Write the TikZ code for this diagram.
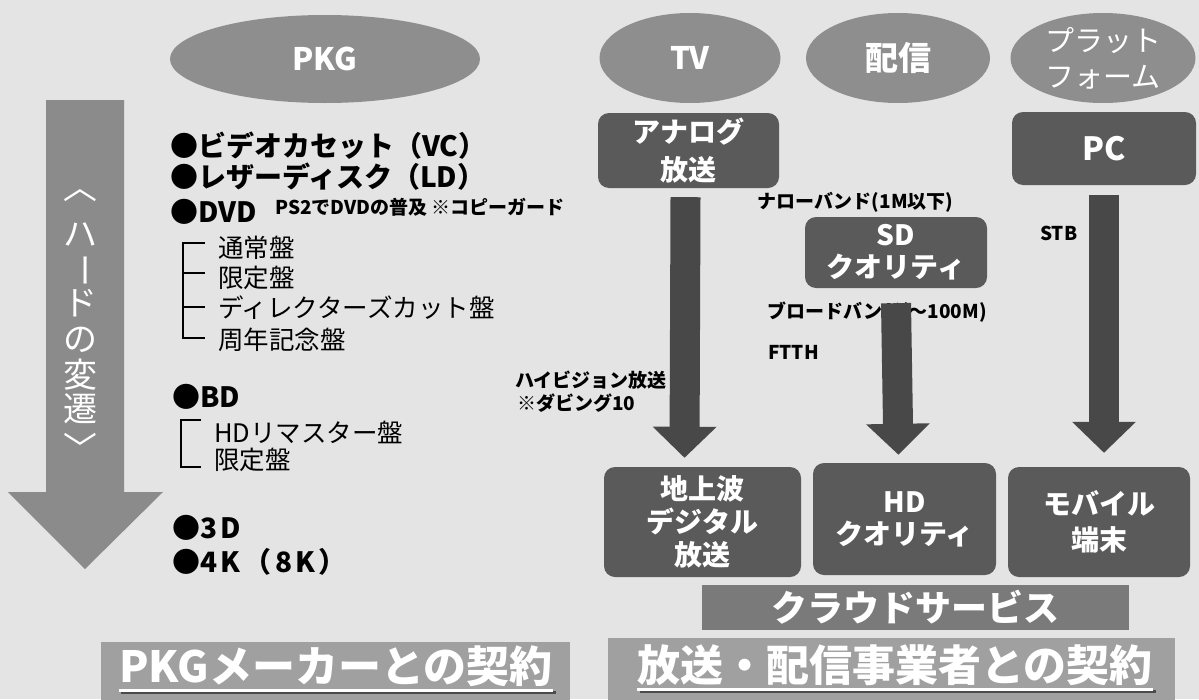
\documentclass[tikz,border=0pt]{standalone}
\usepackage{fontspec}
\setmainfont{Noto Sans CJK JP}
\usetikzlibrary{shapes.geometric,arrows.meta}
\definecolor{bg}{HTML}{E4E4E4}
\definecolor{ellfill}{HTML}{8E8E8E}
\definecolor{boxfill}{HTML}{5A5A5A}
\definecolor{arrfill}{HTML}{484848}
\definecolor{bigarr}{HTML}{8B8B8B}
\definecolor{bannerfill}{HTML}{A0A0A0}
\definecolor{cloudfill}{HTML}{7A7A7A}
\definecolor{shadowc}{HTML}{4A4A4A}
\newcommand{\fs}[1]{\fontsize{#1}{#1}\selectfont}
\tikzset{
  ell/.style={ellipse, fill=ellfill, inner sep=0pt},
  elltext/.style={text=white, font=\fs{31}\bfseries, align=center, inner sep=0pt},
  box/.style={rectangle, rounded corners=11pt, fill=boxfill, text=white, align=center, inner sep=0pt, font=\bfseries},
  flow/.style={draw=arrfill, line width=30pt, -{Triangle[width=62pt,length=31pt]}},
  item/.style={anchor=west, inner sep=0pt, font=\fs{28}\bfseries},
  subitem/.style={anchor=west, inner sep=0pt, font=\fs{25.5}},
  lab/.style={anchor=west, inner sep=0pt, font=\fs{19}\bfseries},
  brk/.style={line width=2.6pt, black},
  vtext/.style={text=white, inner sep=0pt, font=\fs{34}},
  banner/.style={rectangle, inner sep=0pt},
  bantext/.style={text=white, inner sep=0pt, font=\fs{43}\bfseries},
}
\begin{document}
\begin{tikzpicture}[x=1pt,y=-1pt]
\fill[bg] (0,0) rectangle (1199,699);
\useasboundingbox (0,0) rectangle (1199,699);

% ellipses
\node[ell, minimum width=310pt, minimum height=88pt] (pkg) at (325,59) {};
\node[elltext] (pkgT) at (pkg) {PKG};
\node[ell, minimum width=181pt, minimum height=90pt] (tv) at (690,58) {};
\node[elltext] (tvT) at (tv) {TV};
\node[ell, minimum width=184pt, minimum height=90pt] (hai) at (898,58) {};
\node[elltext, font=\fs{33}\bfseries] (haiT) at (hai) {配信};
\node[ell, minimum width=185pt, minimum height=90pt] (plat) at (1103,58) {};
\node[elltext, font=\fs{29}, align=center] (platT) at (plat) {プラット\\[7pt]フォーム};

% top boxes
\node[box, minimum width=181pt, minimum height=75pt, font=\fs{28}\bfseries] (ana) at (688.5,150.5) {アナログ\\[10pt]放送};
\node[box, minimum width=184pt, minimum height=73pt, font=\fs{32}\bfseries] (pc) at (1104,148.5) {PC};
\node[box, minimum width=182pt, minimum height=71pt, font=\fs{28}\bfseries] (sd) at (896,252.5) {SD\\[4pt]クオリティ};

% bottom boxes
\node[box, minimum width=197pt, minimum height=110pt, font=\fs{28}\bfseries] (chi) at (702.5,522) {地上波\\[5pt]デジタル\\[5pt]放送};
\node[box, minimum width=183pt, minimum height=112pt, font=\fs{28}\bfseries] (hd) at (904.5,519) {HD\\[4pt]クオリティ};
\node[box, minimum width=182pt, minimum height=110pt, font=\fs{28}\bfseries] (mob) at (1099,522) {モバイル\\[8pt]端末};

% labels
\node[lab] (narrow) at (757,202) {ナローバンド(1M以下)};
\node[lab] (stb) at (1040,233) {STB};
\node[lab] (broad) at (767,312) {ブロードバンド(～100M)};
\node[lab] (ftth) at (768,352) {FTTH};
\node[lab] (hv) at (515,380) {ハイビジョン放送};
\node[lab] (dub) at (517,403) {※ダビング10};

% flow arrows
\draw[flow] ([xshift=-3pt,yshift=-9pt]ana.south) -- ([xshift=-18pt,yshift=9pt]chi.north);
\draw[flow] ([yshift=-15pt]sd.south) -- ([xshift=-6pt,yshift=8pt]hd.north);
\draw[flow] ([yshift=-10pt]pc.south) -- ([xshift=5pt,yshift=14pt]mob.north);

% cloud
\node[banner, fill=cloudfill, minimum width=427pt, minimum height=45pt] (cloud) at (915.5,607.5) {};
\node[text=white, inner sep=0pt, font=\fs{36}\bfseries] (cloudT) at (cloud) {クラウドサービス};

% bottom banners
\node[banner, fill=bannerfill, minimum width=469pt, minimum height=60pt, anchor=north west] (pkgban) at (101,642) {};
\node[bantext] (pkgbanT) at (336,666) {PKGメーカーとの契約};
\draw[shadowc, line width=3pt] ([xshift=2.5pt,yshift=-10.5pt]pkgbanT.base west) -- ([xshift=2.5pt,yshift=-10.5pt]pkgbanT.base east);
\draw[white, line width=3pt] ([yshift=-8pt]pkgbanT.base west) -- ([yshift=-8pt]pkgbanT.base east);

\node[banner, fill=bannerfill, minimum width=567pt, minimum height=62pt, anchor=north west] (conban) at (608,638) {};
\node[bantext] (conbanT) at (895,665) {放送・配信事業者との契約};
\draw[shadowc, line width=3pt] ([xshift=2.5pt,yshift=-10.5pt]conbanT.base west) -- ([xshift=2.5pt,yshift=-10.5pt]conbanT.base east);
\draw[white, line width=3pt] ([yshift=-8pt]conbanT.base west) -- ([yshift=-8pt]conbanT.base east);

% left big arrow
\fill[bigarr] (46,100) -- (124,100) -- (124,492) -- (163,492) -- (85,569) -- (8,492) -- (46,492) -- cycle;
\foreach \c/\y [count=\i] in {{\rotatebox[origin=c]{-90}{〈}}/186, ハ/235, {\rotatebox[origin=c]{-90}{ー}}/270, ド/303, の/340, 変/375, 遷/409, {\rotatebox[origin=c]{-90}{〉}}/448}
  \node[vtext] (v\i) at (80,\y) {\c};

% left list
\node[item] (b1) at (170,146) {●ビデオカセット（VC）};
\node[item] (b2) at (170,177) {●レザーディスク（LD）};
\node[item] (b3) at (170,212) {●DVD};
\node[lab] (ps2) at (275,207) {PS2でDVDの普及 ※コピーガード};
\draw[brk] (205,243) -- (183,243) -- (183,338) -- (205,338);
\draw[brk] (183,273) -- (205,273);
\draw[brk] (183,307) -- (205,307);
\node[subitem] (s1) at (218,248) {通常盤};
\node[subitem] (s2) at (218,278) {限定盤};
\node[subitem] (s3) at (218,308) {ディレクターズカット盤};
\node[subitem] (s4) at (218,340) {周年記念盤};
\node[item] (b4) at (172,397) {●BD};
\draw[brk] (201,420) -- (181,420) -- (181,467) -- (201,467);
\node[subitem] (s5) at (214,432) {HDリマスター盤};
\node[subitem] (s6) at (214,460) {限定盤};
\node[item] (b5) at (172,528) {●\addfontfeature{LetterSpace=12}3D};
\node[item] (b6) at (172,562) {●\addfontfeature{LetterSpace=12}4K（8K）};
\end{tikzpicture}
\end{document}
